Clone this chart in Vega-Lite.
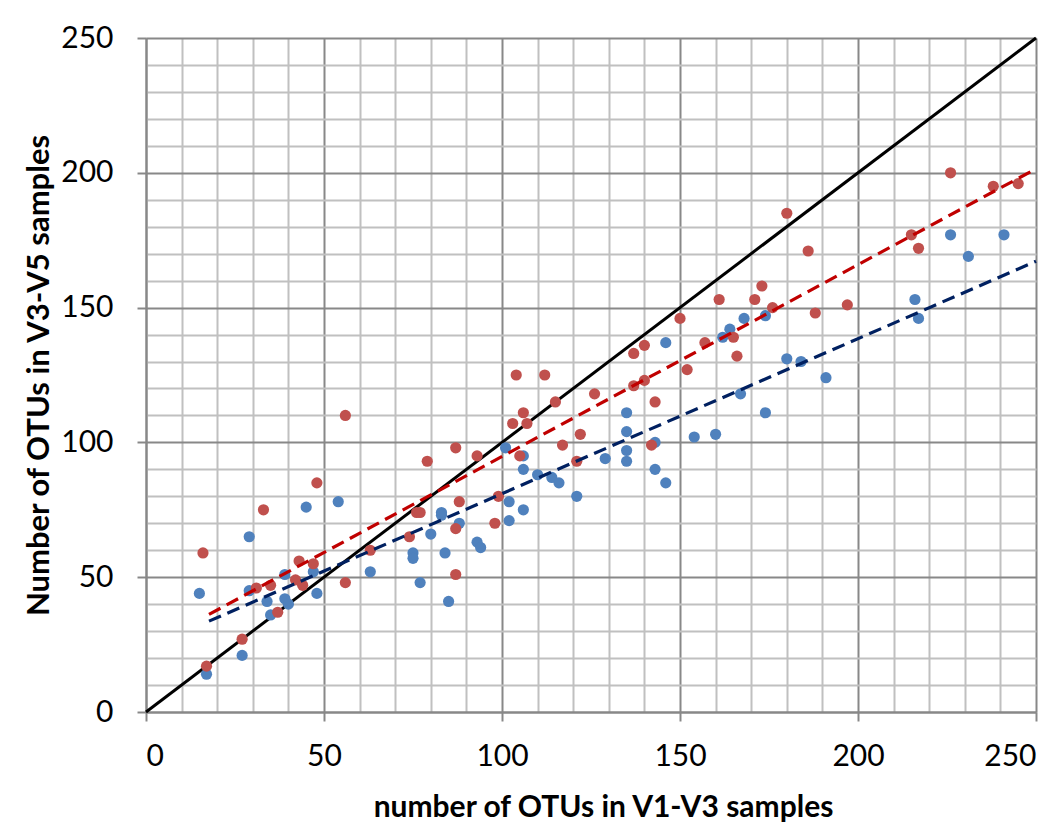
{
  "$schema": "https://vega.github.io/schema/vega-lite/v6.json",
  "width": 890,
  "height": 674,
  "autosize": {"type": "none"},
  "padding": {"left": 146, "top": 38, "right": 28, "bottom": 125},
  "background": "white",
  "config": {"view": {"stroke": null}},
  "datasets": {
    "points": [
      {"series": "blue", "x": 15, "y": 44}, {"series": "blue", "x": 17, "y": 14}, {"series": "blue", "x": 27, "y": 21},
      {"series": "blue", "x": 29, "y": 65}, {"series": "blue", "x": 29, "y": 45}, {"series": "blue", "x": 34, "y": 41},
      {"series": "blue", "x": 35, "y": 36}, {"series": "blue", "x": 39, "y": 51}, {"series": "blue", "x": 39, "y": 42},
      {"series": "blue", "x": 40, "y": 40}, {"series": "blue", "x": 45, "y": 76}, {"series": "blue", "x": 47, "y": 52},
      {"series": "blue", "x": 48, "y": 44}, {"series": "blue", "x": 54, "y": 78}, {"series": "blue", "x": 63, "y": 52},
      {"series": "blue", "x": 75, "y": 59}, {"series": "blue", "x": 75, "y": 57}, {"series": "blue", "x": 77, "y": 48},
      {"series": "blue", "x": 80, "y": 66}, {"series": "blue", "x": 83, "y": 74}, {"series": "blue", "x": 83, "y": 73},
      {"series": "blue", "x": 84, "y": 59}, {"series": "blue", "x": 85, "y": 41}, {"series": "blue", "x": 88, "y": 70},
      {"series": "blue", "x": 93, "y": 63}, {"series": "blue", "x": 94, "y": 61}, {"series": "blue", "x": 101, "y": 98},
      {"series": "blue", "x": 102, "y": 78}, {"series": "blue", "x": 102, "y": 71}, {"series": "blue", "x": 106, "y": 95},
      {"series": "blue", "x": 106, "y": 90}, {"series": "blue", "x": 106, "y": 75}, {"series": "blue", "x": 110, "y": 88},
      {"series": "blue", "x": 114, "y": 87}, {"series": "blue", "x": 116, "y": 85}, {"series": "blue", "x": 121, "y": 80},
      {"series": "blue", "x": 129, "y": 94}, {"series": "blue", "x": 135, "y": 111}, {"series": "blue", "x": 135, "y": 104},
      {"series": "blue", "x": 135, "y": 97}, {"series": "blue", "x": 135, "y": 93}, {"series": "blue", "x": 143, "y": 100},
      {"series": "blue", "x": 143, "y": 90}, {"series": "blue", "x": 146, "y": 85}, {"series": "blue", "x": 146, "y": 137},
      {"series": "blue", "x": 154, "y": 102}, {"series": "blue", "x": 160, "y": 103}, {"series": "blue", "x": 162, "y": 139},
      {"series": "blue", "x": 164, "y": 142}, {"series": "blue", "x": 167, "y": 118}, {"series": "blue", "x": 168, "y": 146},
      {"series": "blue", "x": 174, "y": 147}, {"series": "blue", "x": 174, "y": 111}, {"series": "blue", "x": 180, "y": 131},
      {"series": "blue", "x": 184, "y": 130}, {"series": "blue", "x": 191, "y": 124}, {"series": "blue", "x": 216, "y": 153},
      {"series": "blue", "x": 217, "y": 146}, {"series": "blue", "x": 226, "y": 177}, {"series": "blue", "x": 231, "y": 169},
      {"series": "blue", "x": 241, "y": 177},
      {"series": "red", "x": 16, "y": 59}, {"series": "red", "x": 17, "y": 17}, {"series": "red", "x": 27, "y": 27},
      {"series": "red", "x": 31, "y": 46}, {"series": "red", "x": 33, "y": 75}, {"series": "red", "x": 35, "y": 47},
      {"series": "red", "x": 37, "y": 37}, {"series": "red", "x": 42, "y": 49}, {"series": "red", "x": 43, "y": 56},
      {"series": "red", "x": 44, "y": 47}, {"series": "red", "x": 47, "y": 55}, {"series": "red", "x": 48, "y": 85},
      {"series": "red", "x": 56, "y": 110}, {"series": "red", "x": 56, "y": 48}, {"series": "red", "x": 63, "y": 60},
      {"series": "red", "x": 74, "y": 65}, {"series": "red", "x": 76, "y": 74}, {"series": "red", "x": 77, "y": 74},
      {"series": "red", "x": 79, "y": 93}, {"series": "red", "x": 87, "y": 98}, {"series": "red", "x": 87, "y": 68},
      {"series": "red", "x": 87, "y": 51}, {"series": "red", "x": 88, "y": 78}, {"series": "red", "x": 93, "y": 95},
      {"series": "red", "x": 98, "y": 70}, {"series": "red", "x": 99, "y": 80}, {"series": "red", "x": 103, "y": 107},
      {"series": "red", "x": 104, "y": 125}, {"series": "red", "x": 105, "y": 95}, {"series": "red", "x": 106, "y": 111},
      {"series": "red", "x": 107, "y": 107}, {"series": "red", "x": 112, "y": 125}, {"series": "red", "x": 115, "y": 115},
      {"series": "red", "x": 117, "y": 99}, {"series": "red", "x": 121, "y": 93}, {"series": "red", "x": 122, "y": 103},
      {"series": "red", "x": 126, "y": 118}, {"series": "red", "x": 137, "y": 121}, {"series": "red", "x": 137, "y": 133},
      {"series": "red", "x": 140, "y": 136}, {"series": "red", "x": 140, "y": 123}, {"series": "red", "x": 142, "y": 99},
      {"series": "red", "x": 143, "y": 115}, {"series": "red", "x": 150, "y": 146}, {"series": "red", "x": 152, "y": 127},
      {"series": "red", "x": 157, "y": 137}, {"series": "red", "x": 161, "y": 153}, {"series": "red", "x": 165, "y": 139},
      {"series": "red", "x": 166, "y": 132}, {"series": "red", "x": 171, "y": 153}, {"series": "red", "x": 173, "y": 158},
      {"series": "red", "x": 176, "y": 150}, {"series": "red", "x": 180, "y": 185}, {"series": "red", "x": 186, "y": 171},
      {"series": "red", "x": 188, "y": 148}, {"series": "red", "x": 197, "y": 151}, {"series": "red", "x": 215, "y": 177},
      {"series": "red", "x": 217, "y": 172}, {"series": "red", "x": 226, "y": 200}, {"series": "red", "x": 238, "y": 195},
      {"series": "red", "x": 245, "y": 196}
    ],
    "diagonal": [{"x": 0, "y": 0}, {"x": 250, "y": 250}],
    "trends": [
      {"series": "blue", "x": 17.7, "y": 33.7}, {"series": "blue", "x": 250, "y": 167.2},
      {"series": "red", "x": 17.7, "y": 36.2}, {"series": "red", "x": 250, "y": 201.5}
    ]
  },
  "encoding": {
    "x": {"field": "x", "type": "quantitative", "scale": {"domain": [0, 250], "nice": false},
      "axis": {"orient": "bottom",
        "values": [0, 10, 20, 30, 40, 50, 60, 70, 80, 90, 100, 110, 120, 130, 140, 150, 160, 170, 180, 190, 200, 210, 220, 230, 240, 250],
        "grid": true, "gridWidth": 2,
        "gridColor": {"condition": {"test": "datum.value % 50 === 0", "value": "#888888"}, "value": "#c0c0c0"},
        "domainColor": "#888888", "domainWidth": 2, "tickWidth": 2, "tickSize": 9,
        "tickColor": {"condition": {"test": "datum.value % 50 === 0", "value": "#888888"}, "value": "transparent"},
        "labelExpr": "datum.value % 50 === 0 ? datum.label : ''",
        "labelFont": "Lato", "labelFontSize": 30, "labelColor": "black", "labelPadding": 20,
        "title": "number of OTUs in V1-V3 samples", "titleFont": "Lato", "titleFontSize": 30, "titleFontWeight": "bold",
        "titleColor": "black", "titleX": 457, "titleY": 104, "titleBaseline": "alphabetic"}},
    "y": {"field": "y", "type": "quantitative", "scale": {"domain": [0, 250], "nice": false},
      "axis": {"orient": "left",
        "values": [0, 10, 20, 30, 40, 50, 60, 70, 80, 90, 100, 110, 120, 130, 140, 150, 160, 170, 180, 190, 200, 210, 220, 230, 240, 250],
        "grid": true, "gridWidth": 2,
        "gridColor": {"condition": {"test": "datum.value % 50 === 0", "value": "#888888"}, "value": "#c0c0c0"},
        "domainColor": "#888888", "domainWidth": 2, "tickWidth": 2, "tickSize": 9,
        "tickColor": {"condition": {"test": "datum.value % 50 === 0", "value": "#888888"}, "value": "transparent"},
        "labelExpr": "datum.value % 50 === 0 ? datum.label : ''",
        "labelFont": "Lato", "labelFontSize": 30, "labelColor": "black", "labelPadding": 24,
        "title": "Number of OTUs in V3-V5 samples", "titleFont": "Lato", "titleFontSize": 31, "titleFontWeight": "bold",
        "titleColor": "black", "titleX": -98, "titleY": 337, "titleAlign": "center", "titleBaseline": "alphabetic"}}
  },
  "layer": [
    {
      "data": {"name": "diagonal"},
      "mark": {"type": "line", "color": "black", "strokeWidth": 3}
    },
    {
      "data": {"name": "points"},
      "mark": {"type": "circle", "size": 125, "opacity": 1},
      "encoding": {
        "fill": {"field": "series", "type": "nominal", "scale": {"domain": ["blue", "red"], "range": ["#4F81BD", "#C0504D"]}, "legend": null},
        "order": {"field": "series", "type": "nominal"}
      }
    },
    {
      "data": {"name": "trends"},
      "mark": {"type": "line", "strokeWidth": 3.2, "strokeDash": [13, 7]},
      "encoding": {
        "stroke": {"field": "series", "type": "nominal", "scale": {"domain": ["blue", "red"], "range": ["#002060", "#C00000"]}, "legend": null}
      }
    }
  ]
}
